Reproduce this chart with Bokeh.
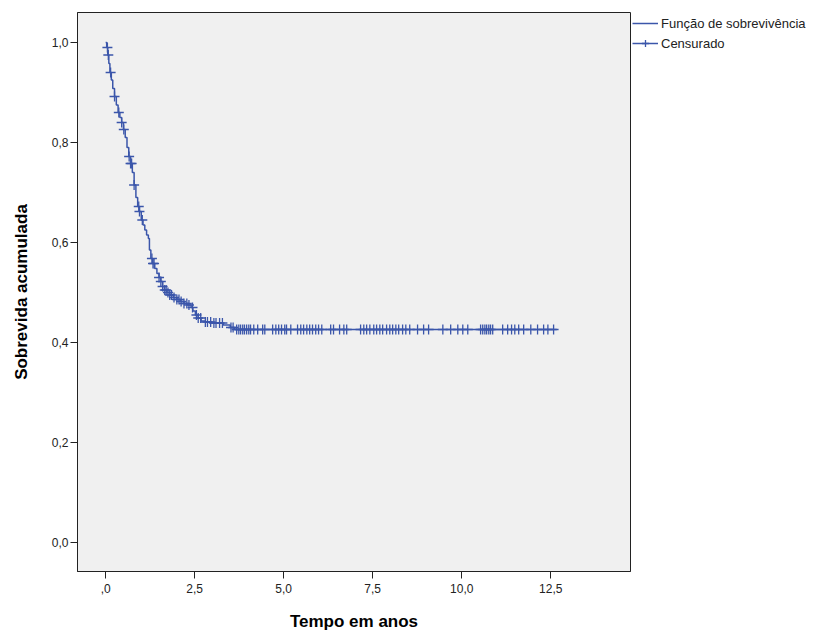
from bokeh.plotting import figure
from bokeh.models import Range1d, FixedTicker, Legend, LegendItem, ColumnDataSource
from bokeh.embed import file_html
from bokeh.resources import INLINE
import numpy as np

# Kaplan-Meier step curve (time in years, cumulative survival after each step)
step_times = [0.0, 0.03, 0.06, 0.09, 0.12, 0.16, 0.20, 0.25, 0.30, 0.35, 0.40, 0.45, 0.50,
              0.55, 0.60, 0.65, 0.70, 0.75, 0.80, 0.85, 0.90, 0.95, 1.00, 1.05, 1.10, 1.15,
              1.20, 1.23, 1.27, 1.32, 1.38, 1.44, 1.50, 1.55, 1.60, 1.65, 1.72, 1.80, 1.90,
              2.00, 2.10, 2.20, 2.30, 2.40, 2.45, 2.52, 2.60, 2.68, 2.80, 3.00, 3.30, 3.50,
              3.62, 12.67]
step_surv = [1.000, 0.990, 0.975, 0.958, 0.940, 0.925, 0.908, 0.892, 0.875, 0.860, 0.850,
             0.840, 0.826, 0.810, 0.790, 0.772, 0.758, 0.740, 0.715, 0.690, 0.672, 0.662,
             0.645, 0.635, 0.625, 0.615, 0.608, 0.585, 0.568, 0.558, 0.548, 0.538, 0.530,
             0.522, 0.512, 0.505, 0.500, 0.495, 0.490, 0.486, 0.482, 0.478, 0.475, 0.470,
             0.463, 0.455, 0.449, 0.443, 0.441, 0.439, 0.435, 0.430, 0.426, 0.426]

# Censored observations (time in years)
censor_times = [0.05, 0.075, 0.14, 0.25, 0.37, 0.45, 0.51, 0.66, 0.70, 0.73, 0.80, 0.93, 0.95,
                1.03, 1.30, 1.33, 1.36, 1.50, 1.55, 1.60, 1.66, 1.70, 1.75, 1.80, 1.85, 1.92,
                2.00, 2.06, 2.12, 2.20, 2.28, 2.34, 2.44, 2.55, 2.60, 2.67, 2.80, 2.86, 2.95,
                3.04, 3.10, 3.20, 3.28, 3.52, 3.58,
                3.68, 3.74, 3.79, 3.85, 3.90, 3.96, 4.02, 4.07, 4.16, 4.27, 4.41, 4.47, 4.69,
                4.78, 4.86, 4.94, 5.03, 5.08, 5.20, 5.39, 5.48, 5.56, 5.65, 5.73, 5.81, 5.90,
                5.98, 6.07, 6.32, 6.40, 6.57, 6.69, 6.77, 7.16, 7.25, 7.33, 7.42, 7.53, 7.61,
                7.70, 7.78, 7.89, 7.98, 8.06, 8.15, 8.23, 8.34, 8.43, 8.54, 8.76, 8.93, 9.07,
                9.47, 9.69, 9.89, 10.03, 10.17, 10.53, 10.59, 10.65, 10.70, 10.76, 10.81,
                10.87, 11.15, 11.29, 11.40, 11.49, 11.60, 11.74, 11.94, 12.13, 12.30, 12.42,
                12.58]

x_ticks = [0, 2.5, 5, 7.5, 10, 12.5]
x_tick_labels = [",0", "2,5", "5,0", "7,5", "10,0", "12,5"]
y_ticks = [0, 0.2, 0.4, 0.6, 0.8, 1.0]
y_tick_labels = ["0,0", "0,2", "0,4", "0,6", "0,8", "1,0"]

x_title = "Tempo em anos"
y_title = "Sobrevida acumulada"
legend_labels = ["Função de sobrevivência", "Censurado"]

BLUE = "#3b56aa"
FONT = "Liberation Sans"

# survival value at each censoring time from the step function
st = np.array(step_times)
ss = np.array(step_surv)
idx = np.searchsorted(st, np.array(censor_times), side="right") - 1
censor_surv = ss[idx]

p = figure(frame_width=553, frame_height=559, output_backend="svg", toolbar_location=None,
           x_range=Range1d(-0.79, 14.74), y_range=Range1d(-0.058, 1.06),
           min_border_left=77, min_border_right=0, min_border_top=12, min_border_bottom=58)

p.background_fill_color = "#f0f0f0"
p.border_fill_color = "white"
p.outline_line_color = "#222222"
p.outline_line_width = 1
p.grid.visible = False

r_step = p.step(step_times, step_surv, mode="after", line_color=BLUE, line_width=1.5)
src = ColumnDataSource(dict(x=censor_times, y=censor_surv))
r_cens = p.scatter("x", "y", source=src, marker="cross", size=10, line_color=BLUE,
                   line_width=1.3)

p.xaxis.ticker = FixedTicker(ticks=x_ticks)
p.xaxis.major_label_overrides = {t: l for t, l in zip(x_ticks, x_tick_labels)}
p.yaxis.ticker = FixedTicker(ticks=y_ticks)
p.yaxis.major_label_overrides = {t: l for t, l in zip(y_ticks, y_tick_labels)}

for ax in (p.xaxis, p.yaxis):
    ax.axis_line_color = "#222222"
    ax.major_tick_line_color = "#222222"
    ax.major_tick_out = 7
    ax.major_tick_in = 0
    ax.minor_tick_line_color = None
    ax.major_label_text_font = FONT
    ax.major_label_text_font_size = "12px"
    ax.major_label_text_color = "#222222"
    ax.axis_label_text_font = FONT
    ax.axis_label_text_font_size = "17px"
    ax.axis_label_text_font_style = "bold"
    ax.axis_label_text_color = "black"

p.xaxis.axis_label = x_title
p.yaxis.axis_label = y_title
p.xaxis.major_label_standoff = 5
p.xaxis.axis_label_standoff = 16
p.yaxis.major_label_standoff = 2
p.yaxis.axis_label_standoff = 18

legend = Legend(items=[LegendItem(label=legend_labels[0], renderers=[r_step]),
                       LegendItem(label=legend_labels[1], renderers=[r_step, r_cens])],
                location="top_left", orientation="vertical")
legend.border_line_color = None
legend.background_fill_alpha = 0
legend.padding = 2
legend.margin = 2
legend.spacing = 2
legend.glyph_width = 26
legend.glyph_height = 18
legend.label_height = 18
legend.label_standoff = 3
legend.label_text_font = FONT
legend.label_text_font_size = "13px"
legend.label_text_color = "#222222"
p.add_layout(legend, "right")

open("out.html", "w").write(file_html(p, INLINE))
